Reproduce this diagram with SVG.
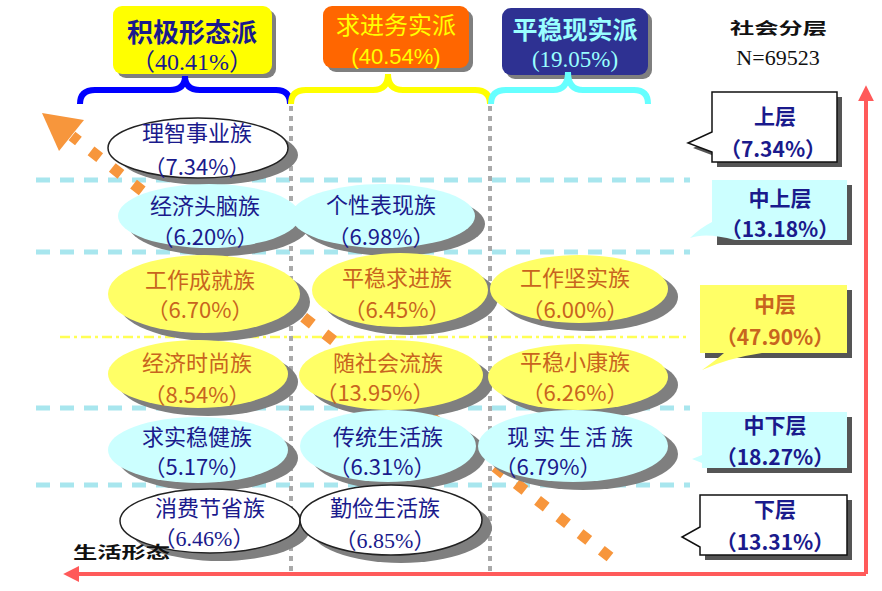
<svg xmlns="http://www.w3.org/2000/svg" width="882" height="591" viewBox="0 0 882 591">
<defs>
<style>
.cn{font-family:"Noto Sans CJK SC","Liberation Sans",sans-serif;}
.t{font-size:22px;text-anchor:middle;}
.navy{fill:#1a1a8c;}
.brown{fill:#c8641e;}
.sh{fill:#7f7f7f;}
.wh{fill:#ffffff;stroke:#222;stroke-width:1.5;}
.cy{fill:#ccffff;}
.ye{fill:#ffff66;}
.hl{stroke:#a8e6ee;stroke-width:5;stroke-dasharray:14 10;fill:none;}
.vl{stroke:#aaaaaa;stroke-width:4;stroke-dasharray:5 5;fill:none;}
.cb{font-size:21px;font-weight:bold;text-anchor:middle;}
</style>
<marker id="redhead" viewBox="0 0 10 10" refX="2" refY="5" markerWidth="4" markerHeight="4" orient="auto" markerUnits="strokeWidth">
<path d="M0,0 L10,5 L0,10 Z" fill="#ff5a5a"/>
</marker>
</defs>
<rect width="882" height="591" fill="#ffffff"/>

<g id="grid">
<line class="hl" x1="36" y1="180" x2="690" y2="180"/>
<line class="hl" x1="36" y1="252" x2="690" y2="252"/>
<line x1="60" y1="337" x2="690" y2="337" stroke="#ffff55" stroke-width="2.5" stroke-dasharray="10 4 3 4"/>
<line class="hl" x1="36" y1="408" x2="690" y2="408"/>
<line class="hl" x1="36" y1="485" x2="690" y2="485"/>
<line class="vl" x1="291" y1="106" x2="291" y2="572"/>
<line class="vl" x1="490" y1="106" x2="490" y2="572"/>
</g>

<g id="connectors">
<line x1="610" y1="557" x2="72" y2="136" stroke="#f7963c" stroke-width="11" stroke-dasharray="11 16"/>
<polygon points="42,113 84,120 59,151" fill="#f7963c"/>
<line x1="866" y1="574" x2="866" y2="98" stroke="#ff5a5a" stroke-width="4" marker-end="url(#redhead)"/>
<line x1="866" y1="574" x2="76" y2="574" stroke="#ff5a5a" stroke-width="4" marker-end="url(#redhead)"/>
</g>

<g id="headers" class="cn">
<g id="h1">
<rect x="117" y="10" width="159" height="68" rx="9" fill="#7f7f7f"/>
<rect x="113" y="6" width="159" height="68" rx="9" fill="#ffff00"/>
<text x="192" y="42" font-size="26" font-weight="bold" text-anchor="middle" fill="#1a1a8c">积极形态派</text>
<text x="192" y="70" font-size="24" text-anchor="middle" fill="#1a1a8c" font-family="Liberation Serif,Noto Sans CJK SC,serif">（40.41%）</text>
</g>
<g id="h2">
<rect x="327" y="10" width="146" height="62" rx="9" fill="#7f7f7f"/>
<rect x="323" y="6" width="146" height="62" rx="9" fill="#ff6600"/>
<text x="396" y="34" font-size="24" text-anchor="middle" fill="#ffff00">求进务实派</text>
<text x="396" y="64" font-size="22" text-anchor="middle" fill="#ffff00" font-family="Liberation Sans,sans-serif">(40.54%)</text>
</g>
<g id="h3">
<rect x="506" y="12" width="146" height="67" rx="9" fill="#7f7f7f"/>
<rect x="502" y="8" width="146" height="67" rx="9" fill="#2e3192"/>
<text x="575" y="39" font-size="25" font-weight="bold" text-anchor="middle" fill="#99ffff">平稳现实派</text>
<text x="575" y="67" font-size="23" text-anchor="middle" fill="#99ffff" font-family="Liberation Serif,serif">(19.05%)</text>
</g>
<path d="M80,104 Q80,90 95,90 L170,90 Q185,90 185,76 Q185,90 200,90 L276,90 Q290,90 290,104" fill="none" stroke="#0000ff" stroke-width="6"/>
<path d="M291,104 Q291,90 306,90 L373,90 Q388,90 388,74 Q388,90 403,90 L475,90 Q490,90 490,104" fill="none" stroke="#ffff00" stroke-width="6"/>
<path d="M491,104 Q491,90 506,90 L553,90 Q568,90 568,72 Q568,90 583,90 L634,90 Q648,90 648,104" fill="none" stroke="#66ffff" stroke-width="6"/>
</g>

<g id="nodes" class="cn">
<g id="n1"><ellipse class="sh" cx="208" cy="155" rx="90" ry="30"/><ellipse class="wh" cx="198" cy="148" rx="90" ry="30"/>
<text class="t navy" x="197" y="141">理智事业族</text><text class="t navy" x="197" y="175">（7.34%）</text></g>
<g id="n2"><ellipse class="sh" cx="219" cy="224" rx="91" ry="32"/><ellipse class="cy" cx="209" cy="216" rx="91" ry="32"/>
<text class="t navy" x="205" y="214">经济头脑族</text><text class="t navy" x="205" y="245">（6.20%）</text></g>
<g id="n3"><ellipse class="sh" cx="393" cy="224" rx="92" ry="32"/><ellipse class="cy" cx="383" cy="216" rx="92" ry="32"/>
<text class="t navy" x="381" y="213">个性表现族</text><text class="t navy" x="381" y="245">（6.98%）</text></g>
<g id="n4"><ellipse class="sh" cx="214" cy="302" rx="96" ry="39"/><ellipse class="ye" cx="204" cy="294" rx="96" ry="39"/>
<text class="t brown" x="200" y="288">工作成就族</text><text class="t brown" x="200" y="318">（6.70%）</text></g>
<g id="n5"><ellipse class="sh" cx="410" cy="298" rx="88" ry="37"/><ellipse class="ye" cx="400" cy="290" rx="88" ry="37"/>
<text class="t brown" x="397" y="286">平稳求进族</text><text class="t brown" x="397" y="318">（6.45%）</text></g>
<g id="n6"><ellipse class="sh" cx="589" cy="297" rx="89" ry="34"/><ellipse class="ye" cx="579" cy="289" rx="89" ry="34"/>
<text class="t brown" x="575" y="286">工作坚实族</text><text class="t brown" x="575" y="318">（6.00%）</text></g>
<g id="n7"><ellipse class="sh" cx="208" cy="382" rx="90" ry="34"/><ellipse class="ye" cx="198" cy="374" rx="90" ry="34"/>
<text class="t brown" x="197" y="371">经济时尚族</text><text class="t brown" x="197" y="403">（8.54%）</text></g>
<g id="n8"><ellipse class="sh" cx="401" cy="383" rx="92" ry="35"/><ellipse class="ye" cx="391" cy="375" rx="92" ry="35"/>
<text class="t brown" x="388" y="371">随社会流族</text><text class="t brown" x="375" y="401">（13.95%）</text></g>
<g id="n9"><ellipse class="sh" cx="588" cy="385" rx="90" ry="33"/><ellipse class="ye" cx="578" cy="377" rx="90" ry="33"/>
<text class="t brown" x="575" y="370">平稳小康族</text><text class="t brown" x="575" y="401">（6.26%）</text></g>
<g id="n10"><ellipse class="sh" cx="208" cy="458" rx="90" ry="33"/><ellipse class="cy" cx="198" cy="450" rx="90" ry="33"/>
<text class="t navy" x="197" y="445">求实稳健族</text><text class="t navy" x="197" y="475">（5.17%）</text></g>
<g id="n11"><ellipse class="sh" cx="398" cy="454" rx="88" ry="36"/><ellipse class="cy" cx="388" cy="446" rx="88" ry="36"/>
<text class="t navy" x="388" y="445">传统生活族</text><text class="t navy" x="382" y="475">（6.31%）</text></g>
<g id="n12"><ellipse class="sh" cx="583" cy="454" rx="95" ry="36"/><ellipse class="cy" cx="573" cy="446" rx="95" ry="36"/>
<text class="t navy" x="572" y="445" letter-spacing="4">现实生活族</text><text class="t navy" x="548" y="475">（6.79%）</text></g>
<g id="n13"><ellipse class="sh" cx="220" cy="529" rx="90" ry="32"/><ellipse class="wh" cx="210" cy="521" rx="90" ry="32"/>
<text class="t navy" x="210" y="516">消费节省族</text><text class="t navy" x="204" y="546" font-family="Liberation Serif,Noto Sans CJK SC,serif">（6.46%）</text></g>
<g id="n14"><ellipse class="sh" cx="401" cy="528" rx="91" ry="35"/><ellipse class="wh" cx="391" cy="520" rx="91" ry="35"/>
<text class="t navy" x="385" y="516">勤俭生活族</text><text class="t navy" x="385" y="548" font-family="Liberation Serif,Noto Sans CJK SC,serif">（6.85%）</text></g>
</g>

<g id="axislabels" class="cn">
<text x="73" y="558" font-size="16" font-weight="bold" fill="#111" textLength="97" lengthAdjust="spacingAndGlyphs">生活形态</text>
<text x="730" y="34" font-size="16" font-weight="bold" fill="#111" textLength="97" lengthAdjust="spacingAndGlyphs">社会分层</text>
<text x="778" y="65" font-size="22" text-anchor="middle" fill="#111" font-family="Liberation Serif,serif">N=69523</text>
</g>

<g id="callouts" class="cn">
<g id="c1">
<path d="M717,97 H842 V167 H717 V157 L693,148 L717,137 Z" fill="#555"/>
<path d="M712,92 H837 V162 H712 V152 L688,143 L712,132 Z" fill="#fff" stroke="#111" stroke-width="1.5"/>
<text class="cb navy" x="775" y="124">上层</text><text class="cb navy" x="773" y="157">（7.34%）</text>
</g>
<g id="c2">
<path d="M717,185 H852 V245 H717 Z" fill="#555"/>
<path d="M712,180 H847 V240 H735 Q706,232 690,238 Q700,228 712,222 Z" fill="#ccffff"/>
<text class="cb navy" x="780" y="206">中上层</text><text class="cb navy" x="780" y="237">（13.18%）</text>
</g>
<g id="c3">
<path d="M705,290 H852 V358 H705 Z" fill="#555"/>
<path d="M700,285 H847 V353 H762 Q728,358 702,370 Q716,360 724,353 H700 Z" fill="#ffff66"/>
<text class="cb brown" x="775" y="312">中层</text><text class="cb brown" x="775" y="345">（47.90%）</text>
</g>
<g id="c4">
<path d="M707,417 H852 V473 H707 Z" fill="#555"/>
<path d="M702,412 H847 V468 H702 V463 L692,459 L702,455 Z" fill="#ccffff"/>
<text class="cb navy" x="775" y="433">中下层</text><text class="cb navy" x="775" y="465">（18.27%）</text>
</g>
<g id="c5">
<path d="M705,500 H852 V560 H705 Z" fill="#555"/>
<path d="M700,495 H847 V555 H700 V547 L682,537 L700,527 Z" fill="#fff" stroke="#111" stroke-width="1.5"/>
<text class="cb navy" x="775" y="517">下层</text><text class="cb navy" x="775" y="550">（13.31%）</text>
</g>
</g>
</svg>
